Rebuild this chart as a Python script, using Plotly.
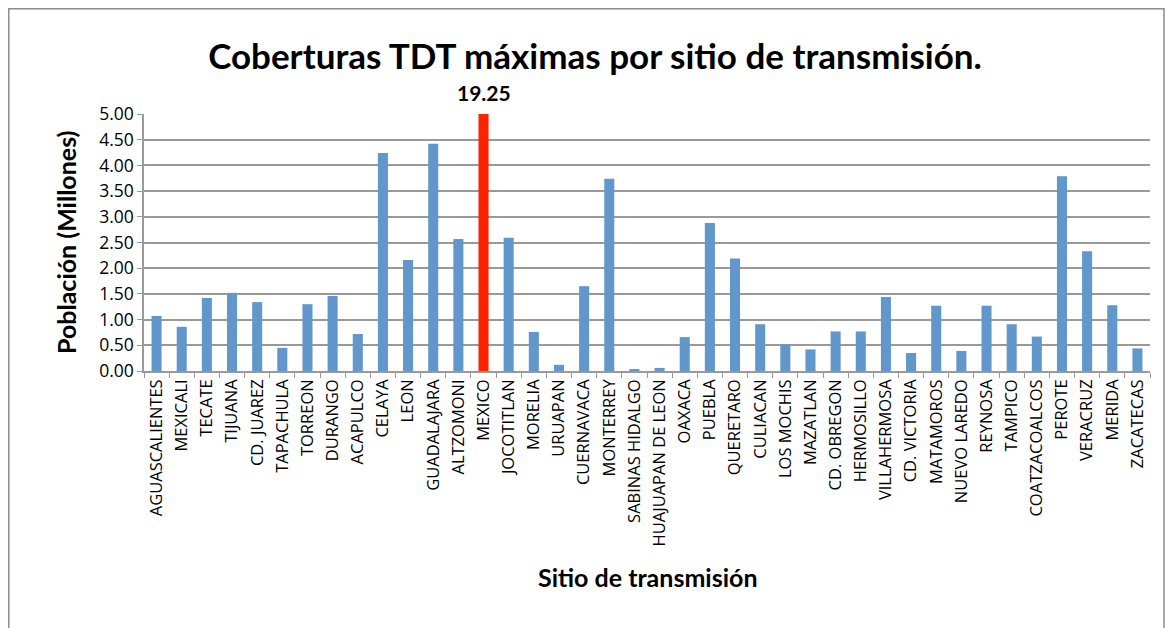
import plotly.graph_objects as go

sites = ["AGUASCALIENTES", "MEXICALI", "TECATE", "TIJUANA", "CD. JUAREZ", "TAPACHULA",
         "TORREON", "DURANGO", "ACAPULCO", "CELAYA", "LEON", "GUADALAJARA", "ALTZOMONI",
         "MEXICO", "JOCOTITLAN", "MORELIA", "URUAPAN", "CUERNAVACA", "MONTERREY",
         "SABINAS HIDALGO", "HUAJUAPAN DE LEON", "OAXACA", "PUEBLA", "QUERETARO",
         "CULIACAN", "LOS MOCHIS", "MAZATLAN", "CD. OBREGON", "HERMOSILLO", "VILLAHERMOSA",
         "CD. VICTORIA", "MATAMOROS", "NUEVO LAREDO", "REYNOSA", "TAMPICO", "COATZACOALCOS",
         "PEROTE", "VERACRUZ", "MERIDA", "ZACATECAS"]
population = [1.07, 0.86, 1.42, 1.52, 1.34, 0.45,
              1.30, 1.46, 0.72, 4.24, 2.16, 4.42, 2.57,
              19.25, 2.59, 0.76, 0.12, 1.65, 3.74,
              0.03, 0.06, 0.66, 2.88, 2.19,
              0.91, 0.52, 0.42, 0.77, 0.77, 1.44,
              0.35, 1.27, 0.39, 1.27, 0.91, 0.67,
              3.79, 2.33, 1.28, 0.44]
highlight_site = "MEXICO"
y_ticks = [0, 0.5, 1, 1.5, 2, 2.5, 3, 3.5, 4, 4.5, 5]

BLUE = "#6197CB"
RED = "#FF2200"
colors = [RED if s == highlight_site else BLUE for s in sites]

# page body has an 8px margin; figure is placed at (8, 8) on screen
OFF = 8
W, H = 1176 - OFF, 628 - OFF
# plot area in screen pixels: x 144..1150, y 114..371
SX0, SX1, SY0, SY1 = 144, 1150, 114, 371
L, R, T, B = SX0 - OFF, W - (SX1 - OFF), SY0 - OFF, H - (SY1 - OFF)
pw, ph = W - L - R, H - T - B
def px(x): return (x - OFF - L) / pw
def py(y): return (H - B - (y - OFF)) / ph

BOLD = "Lato, Open Sans, sans-serif"
REG = "Open Sans, sans-serif"

fig = go.Figure()
fig.add_trace(go.Bar(x=sites, y=population, marker=dict(color=colors, line=dict(width=0)),
                     hoverinfo="x+y"))

hv = population[sites.index(highlight_site)]
fig.add_annotation(x=highlight_site, y=py(92), yref="paper", yanchor="middle",
                   text=f"<b>{hv:.2f}</b>", showarrow=False,
                   font=dict(family=BOLD, size=21, color="black"))
fig.add_annotation(x=px(647), y=py(577), xref="paper", yref="paper",
                   xanchor="center", yanchor="middle", showarrow=False,
                   text="<b>Sitio de transmisión</b>",
                   font=dict(family=BOLD, size=25, color="black"))
fig.add_annotation(x=px(66), y=py(243), xref="paper", yref="paper",
                   xanchor="center", yanchor="middle", showarrow=False, textangle=-90,
                   text="<b>Población (Millones)</b>",
                   font=dict(family=BOLD, size=25, color="black"))

fig.add_shape(type="rect", xref="paper", yref="paper",
              x0=px(OFF + 0.8), x1=px(1164), y0=py(660), y1=py(OFF + 0.8),
              line=dict(color="#8c8c8c", width=1.5), fillcolor="rgba(0,0,0,0)", layer="below")

fig.update_layout(
    width=W, height=H,
    margin=dict(l=L, r=R, t=T, b=B, autoexpand=False),
    paper_bgcolor="white", plot_bgcolor="white",
    bargap=0.6, showlegend=False,
    title=dict(text="<b>Coberturas TDT máximas por sitio de transmisión.</b>",
               x=px(595), xref="paper", xanchor="center", y=1 - (57 - OFF) / H, yanchor="middle",
               font=dict(family=BOLD, size=35, color="black")),
)
fig.update_xaxes(
    automargin=False,
    tickangle=-90, tickfont=dict(family=REG, size=16.5, color="black"),
    ticks="outside", tickson="boundaries", ticklen=5, tickcolor="#999999",
    showline=True, linecolor="#999999", linewidth=1.5, showgrid=False,
)
fig.update_yaxes(
    automargin=False,
    range=[0, 5], tickvals=y_ticks, tickformat=".2f",
    tickfont=dict(family=REG, size=17.5, color="black"),
    ticks="outside", ticklen=5, tickcolor="#999999",
    showline=True, linecolor="#999999", linewidth=1.5,
    showgrid=True, gridcolor="#999999", gridwidth=1.5, zeroline=False,
)

fig.write_html("out.html")
